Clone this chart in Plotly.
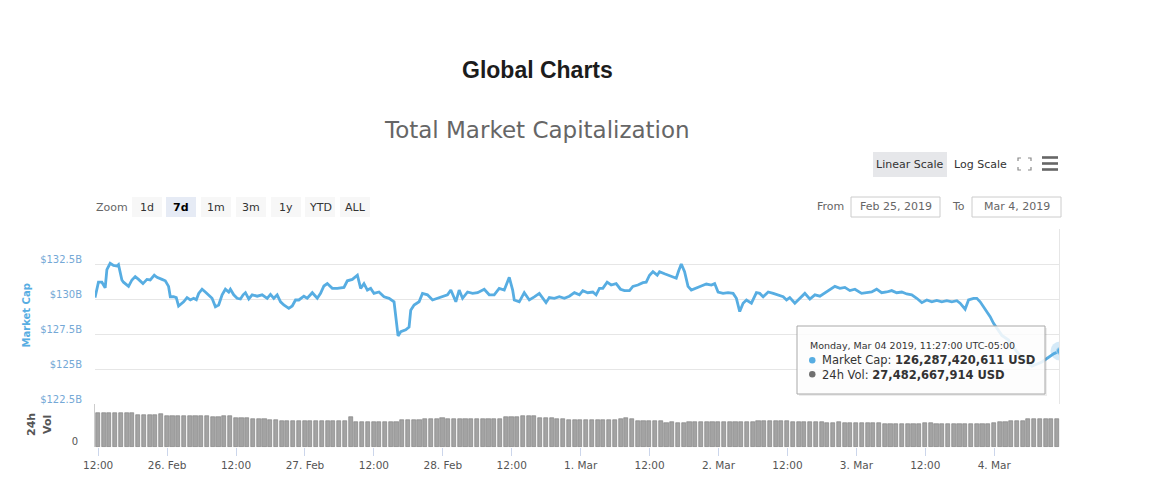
import pandas as pd
import plotly.graph_objects as go

W, H = 1149, 491

# market cap line: hours after 25 Feb 12:00, value in $B
hours_from_noon = [
    -0.55, 0.05, 0.65, 1.22, 1.52, 2.09, 2.67, 3.26, 3.54, 4.13, 4.41, 5.29,
    5.88, 6.45, 7.03, 7.80, 8.49, 9.07, 9.77, 10.24, 11.11, 11.69, 12.26, 12.56,
    13.13, 13.6, 14.0, 14.88, 15.47, 16.05, 16.62, 17.09, 17.5, 18.09, 18.66, 19.24,
    19.83, 20.41, 20.98, 21.58, 22.15, 22.73, 23.02, 23.6, 24.19, 24.77, 25.24, 25.64,
    26.22, 26.81, 27.68, 28.55, 29.13, 29.43, 30.0, 30.58, 31.17, 31.75, 32.32, 33.19,
    33.79, 34.36, 34.94, 35.81, 36.4, 37.28, 38.15, 38.72, 39.3, 39.89, 40.76, 41.64,
    42.79, 43.38, 44.25, 45.13, 45.7, 46.28, 46.87, 47.44, 48.02, 48.89, 49.77, 50.64,
    51.51, 51.81, 52.21, 52.68, 53.55, 54.13, 54.42, 55.0, 55.87, 56.46, 57.33, 58.21,
    59.08, 59.95, 60.82, 61.4, 62.27, 62.85, 63.44, 64.31, 65.18, 66.06, 67.21, 68.08,
    68.95, 69.82, 70.7, 71.57, 72.16, 72.44, 73.31, 74.18, 75.06, 75.93, 76.8, 77.97,
    78.54, 79.42, 80.29, 81.16, 82.03, 82.91, 83.78, 84.37, 85.24, 86.11, 86.69, 87.27,
    87.86, 88.61, 89.31, 90.18, 90.93, 91.63, 92.5, 93.09, 93.96, 94.84, 95.41, 95.99,
    96.58, 97.33, 97.73, 98.6, 99.77, 100.64, 101.05, 101.52, 102.09, 102.69, 103.26, 104.13,
    105.0, 105.88, 106.75, 107.33, 107.92, 108.79, 109.66, 110.54, 111.11, 111.69, 112.28, 112.86,
    113.73, 114.6, 115.18, 115.77, 116.65, 117.52, 118.39, 119.26, 119.84, 120.41, 121.29, 122.16,
    123.03, 123.9, 124.78, 125.65, 126.24, 127.39, 128.26, 129.13, 130.0, 130.87, 131.75, 132.91,
    133.79, 134.66, 135.53, 136.4, 137.28, 138.15, 139.02, 139.9, 140.77, 141.64, 142.51, 143.39,
    144.26, 145.13, 146.0, 146.87, 147.75, 148.62, 149.49, 150.06, 150.93, 151.53, 152.4, 152.97,
    153.55, 154.14, 154.72, 155.29, 155.88, 157.33, 158.5, 159.07, 160.82, 162.56, 164.3, 165.35,
    166.4, 167.45,
]
market_cap_b = [
    130.1, 131.2, 131.2, 130.8, 132.1, 132.55, 132.4, 132.35, 132.45, 131.36, 131.2, 130.9,
    131.36, 131.6, 131.4, 131.1, 131.4, 131.36, 131.7, 131.55, 131.4, 131.3, 130.9, 130.16,
    130.16, 130.1, 129.5, 129.8, 130.1, 129.93, 130.05, 129.95, 130.4, 130.7, 130.5, 130.3,
    130.05, 129.45, 129.57, 130.3, 130.7, 130.5, 130.7, 130.3, 130.05, 130.0, 130.3, 130.45,
    130.0, 130.3, 130.2, 130.3, 130.15, 130.05, 130.33, 130.05, 130.3, 129.8, 129.57, 129.33,
    129.5, 129.93, 129.93, 130.2, 130.05, 130.45, 130.05, 130.4, 130.93, 131.1, 130.76, 130.76,
    130.83, 131.3, 131.4, 131.7, 130.76, 131.1, 130.64, 130.76, 130.4, 130.5, 130.16, 130.05,
    129.8, 128.74, 127.36, 127.66, 127.8, 128.0, 129.2, 129.57, 129.8, 130.4, 130.3, 129.93,
    130.05, 130.15, 130.3, 130.64, 129.8, 130.64, 130.05, 130.5, 130.4, 130.45, 130.7, 130.3,
    130.3, 130.76, 130.64, 131.55, 130.64, 129.93, 129.8, 130.45, 129.93, 130.15, 130.4, 129.74,
    130.1, 130.05, 130.16, 130.05, 130.2, 130.45, 130.3, 130.6, 130.45, 130.5, 130.3, 130.76,
    130.76, 131.2, 131.0, 131.1, 130.7, 130.6, 130.6, 130.9, 131.0, 131.17, 131.2, 131.7,
    131.95, 131.7, 131.95, 131.8, 131.64, 131.48, 132.0, 132.5, 131.95, 130.9, 130.64, 130.76,
    130.93, 131.07, 131.0, 131.1, 130.5, 130.4, 130.45, 130.4, 130.05, 129.1, 129.7, 129.93,
    129.7, 130.45, 130.4, 130.16, 130.5, 130.4, 130.3, 130.16, 129.93, 130.1, 129.7, 130.05,
    130.4, 130.0, 130.3, 130.2, 130.36, 130.64, 130.9, 130.76, 130.83, 130.6, 130.7, 130.4,
    130.45, 130.5, 130.7, 130.45, 130.5, 130.6, 130.45, 130.5, 130.36, 130.3, 130.05, 129.74,
    129.93, 129.8, 129.9, 129.8, 129.88, 129.8, 129.88, 129.7, 129.27, 129.93, 130.05, 130.05,
    129.8, 129.45, 129.1, 128.74, 128.26, 127.4, 127.07, 126.7, 125.8, 125.2, 125.5, 125.8,
    126.1, 126.29,
]

# 24h volume, hourly bars, $B
volume_b = [
    33.6, 33.8, 33.6, 33.7, 33.5, 33.6, 33.4,
    32.1, 32.0, 31.9, 32.0, 32.6,
    30.5, 30.4, 30.4, 30.3, 30.4, 30.5, 30.4, 30.3,
    29.7, 29.8, 30.5, 30.3,
    29.1, 29.0, 29.2, 27.8, 27.9, 27.7, 26.8, 26.9,
    25.8, 25.9, 25.8, 25.7, 25.8,
    26.0, 25.9, 25.8, 25.9, 25.7, 25.6, 25.5, 29.3,
    25.1, 25.0, 25.2, 25.0, 24.9, 24.9, 25.0, 24.9,
    26.4, 26.5, 26.6, 26.5,
    28.1, 28.2, 28.2, 28.3, 28.2, 28.1, 28.0, 28.2, 28.1, 28.0, 27.9, 28.0, 28.1, 28.0,
    29.6, 29.7, 29.8, 30.6, 30.8, 30.6, 29.2, 29.1, 29.0, 28.2, 28.1,
    26.6, 26.5, 26.5, 26.4, 26.5, 26.6, 26.5, 26.4, 26.5,
    28.1, 28.3, 28.0,
    25.6, 25.5, 25.4, 25.5, 25.4,
    24.3, 24.4, 24.3, 24.2, 24.4,
    24.9, 25.0, 24.9, 24.8, 24.9, 25.0, 24.9, 24.9, 25.0, 24.8, 24.9,
    26.2, 26.3, 26.2, 26.1, 26.2, 26.0,
    25.2, 25.3, 25.1, 25.2, 25.2, 25.0,
    24.3, 24.2, 24.4, 24.3, 24.2, 24.1,
    23.6, 23.5, 23.7, 23.6,
    22.6, 22.7, 22.5, 22.6, 22.6, 22.7, 22.5,
    23.5, 23.6,
    22.6, 22.5, 22.6, 22.7, 22.6, 22.5, 22.6,
    23.0, 23.1, 23.2, 24.3, 24.4, 24.5, 25.7, 25.8, 25.9,
    27.3, 27.4, 27.5, 27.4, 27.5, 27.48,
]

cap_ticks = [122.5, 125, 127.5, 130, 132.5, 135]
cap_tick_text = ["$122.5B", "$125B", "$127.5B", "$130B", "$132.5B", ""]
x_tick_text = ["12:00", "26. Feb", "12:00", "27. Feb", "12:00", "28. Feb", "12:00",
               "1. Mar", "12:00", "2. Mar", "12:00", "3. Mar", "12:00", "4. Mar"]
zoom_buttons = ["1d", "7d", "1m", "3m", "1y", "YTD", "ALL"]

t_noon = pd.Timestamp("2019-02-25 12:00")
t_from = pd.Timestamp("2019-02-25 11:27")
t_to = pd.Timestamp("2019-03-04 11:27")

cap_times = [t_noon + pd.Timedelta(hours=h) for h in hours_from_noon]
vol_times = [pd.Timestamp("2019-02-25 11:57") + pd.Timedelta(hours=i) for i in range(len(volume_b))]
x_tick_vals = [t_noon + pd.Timedelta(hours=12 * k) for k in range(len(x_tick_text))]

BLUE = "#57ade2"
FONT = "DejaVu Sans"


def px(x):
    return x / W


def py(y):
    return 1 - y / H


fig = go.Figure()

fig.add_trace(go.Scatter(
    x=cap_times, y=market_cap_b, mode="lines",
    line=dict(color=BLUE, width=2.8), xaxis="x", yaxis="y",
    hoverinfo="skip",
))
# hovered point at the end of the series
fig.add_trace(go.Scatter(
    x=[cap_times[-1]], y=[market_cap_b[-1]], mode="markers",
    marker=dict(size=19, color="rgba(87,173,226,0.25)"), xaxis="x", yaxis="y",
    hoverinfo="skip",
))
fig.add_trace(go.Scatter(
    x=[cap_times[-1]], y=[market_cap_b[-1]], mode="markers",
    marker=dict(size=7, color=BLUE, line=dict(color="#a9d4f0", width=1)),
    xaxis="x", yaxis="y", hoverinfo="skip",
))
fig.add_trace(go.Bar(
    x=vol_times, y=volume_b, width=3600000 * 0.72,
    marker=dict(color="#a3a3a3", line=dict(color="#7a7a7a", width=0.6)),
    xaxis="x2", yaxis="y2", hoverinfo="skip",
))

shapes = []
annotations = []


def text(x, y, s, size=12, color="#333", xanchor="center", angle=0, family=FONT):
    annotations.append(dict(
        x=px(x), y=py(y), xref="paper", yref="paper", text=s, showarrow=False,
        xanchor=xanchor, yanchor="middle", textangle=angle,
        font=dict(family=family, size=size, color=color),
    ))


def rect(x0, y0, x1, y1, fill, line="rgba(0,0,0,0)", width=1, layer="above"):
    shapes.append(dict(
        type="rect", xref="paper", yref="paper",
        x0=px(x0), x1=px(x1), y0=py(y1), y1=py(y0),
        fillcolor=fill, line=dict(color=line, width=width), layer=layer,
    ))


def seg(x0, y0, x1, y1, color, width=1):
    shapes.append(dict(
        type="line", xref="paper", yref="paper",
        x0=px(x0), x1=px(x1), y0=py(y0), y1=py(y1),
        line=dict(color=color, width=width),
    ))


# titles
text(537, 70, "<b>Global Charts</b>", size=23, color="#1c1c1c", family="Liberation Sans")
text(537, 130, "Total Market Capitalization", size=23, color="#666666")

# scale buttons and icons
rect(873, 152, 947, 177, "#e6e7ea")
text(910, 164.5, "Linear Scale", size=11, color="#333")
text(980, 164.5, "Log Scale", size=11, color="#333")
for (ax, ay, dx, dy) in [(1018, 158, 1, 1), (1031, 158, -1, 1), (1018, 170, 1, -1), (1031, 170, -1, -1)]:
    shapes.append(dict(
        type="path", xref="paper", yref="paper",
        path=f"M {px(ax)},{py(ay + 3 * dy)} L {px(ax)},{py(ay)} L {px(ax + 3 * dx)},{py(ay)}",
        line=dict(color="#8a8a8a", width=1.2),
    ))
for yy in (157.5, 163.5, 169.5):
    rect(1042, yy - 1.3, 1058, yy + 1.3, "#666666")

# zoom buttons
text(112, 207.5, "Zoom", size=11, color="#666")
btn_x = [132, 166, 201, 236, 271, 305, 340]
for label, bx in zip(zoom_buttons, btn_x):
    selected = label == "7d"
    rect(bx, 197, bx + 30, 217, "#e6ebf5" if selected else "#f7f7f7")
    text(bx + 15, 207.5, f"<b>{label}</b>" if selected else label, size=11,
         color="#000" if selected else "#333")

# date range inputs
text(831, 207, "From", size=11, color="#666")
rect(851, 197, 940, 217, "#ffffff", "#cccccc")
text(895.5, 207, "Feb 25, 2019", size=11, color="#666")
text(958, 207, "To", size=11, color="#666")
rect(972, 197, 1061, 217, "#ffffff", "#cccccc")
text(1016.5, 207, "Mar 4, 2019", size=11, color="#666")

# pane frame bits
seg(1059.5, 229, 1059.5, 404, "#e6e6e6")

# axis titles
text(25.5, 316, "<b>Market Cap</b>", size=10, color=BLUE, angle=-90)
text(31, 425, "<b>24h</b>", size=11, color="#555", angle=-90)
text(47, 425, "<b>Vol</b>", size=11, color="#555", angle=-90)

# tooltip
rect(799, 328, 1047, 396, "rgba(0,0,0,0.07)")
rect(797, 326, 1045, 394, "rgba(255,255,255,0.86)", "#a8a8a8")
text(808, 345.5, "Monday, Mar 04 2019, 11:27:00 UTC-05:00", size=9.5, color="#333", xanchor="left")
shapes.append(dict(type="circle", xref="paper", yref="paper",
                   x0=px(809), x1=px(815.5), y0=py(363.5), y1=py(357),
                   fillcolor=BLUE, line=dict(width=0)))
shapes.append(dict(type="circle", xref="paper", yref="paper",
                   x0=px(809), x1=px(815.5), y0=py(377.5), y1=py(371),
                   fillcolor="#707070", line=dict(width=0)))
text(820, 360, "Market Cap: <b>126,287,420,611 USD</b>", size=11.5, color="#333", xanchor="left")
text(820, 374.5, "24h Vol: <b>27,482,667,914 USD</b>", size=11.5, color="#333", xanchor="left")

dom_x = [px(95), px(1060)]

fig.update_layout(
    width=W, height=H,
    margin=dict(l=0, r=0, t=0, b=0, pad=0),
    paper_bgcolor="#ffffff", plot_bgcolor="rgba(0,0,0,0)",
    showlegend=False, bargap=0,
    font=dict(family=FONT, size=10, color="#555"),
    xaxis=dict(
        domain=dom_x, range=[t_from, t_to], anchor="y", type="date",
        showticklabels=False, showgrid=False, zeroline=False, ticks="",
        automargin=False,
    ),
    xaxis2=dict(
        domain=dom_x, range=[t_from, t_to], anchor="y2", type="date",
        tickvals=x_tick_vals, ticktext=x_tick_text, ticks="outside", ticklen=8,
        tickcolor="#ccd6eb", tickwidth=1, showgrid=False, zeroline=False,
        tickfont=dict(family=FONT, size=10.5, color="#555"), automargin=False,
    ),
    yaxis=dict(
        domain=[py(404), py(229)], range=[122.5, 135], anchor="x",
        tickvals=cap_ticks, ticktext=cap_tick_text, gridcolor="#e6e6e6",
        zeroline=False, ticks="", ticklabelshift=-5, ticklabelstandoff=12,
        tickfont=dict(family=FONT, size=10, color="#74a8d6"), automargin=False,
    ),
    yaxis2=dict(
        domain=[py(447.3), py(404)], range=[0, 42.5], anchor="x2",
        tickvals=[0], ticktext=["0"], showgrid=False, zeroline=False, ticks="",
        showline=True, linecolor="#cccccc", linewidth=1,
        ticklabelshift=-6, ticklabelstandoff=14,
        tickfont=dict(family=FONT, size=10, color="#555"), automargin=False,
    ),
    shapes=shapes,
    annotations=annotations,
)

fig.write_html(
    "out.html",
    config={"displayModeBar": False},
    post_script="document.body.style.margin='0';document.body.style.overflow='hidden';",
)
